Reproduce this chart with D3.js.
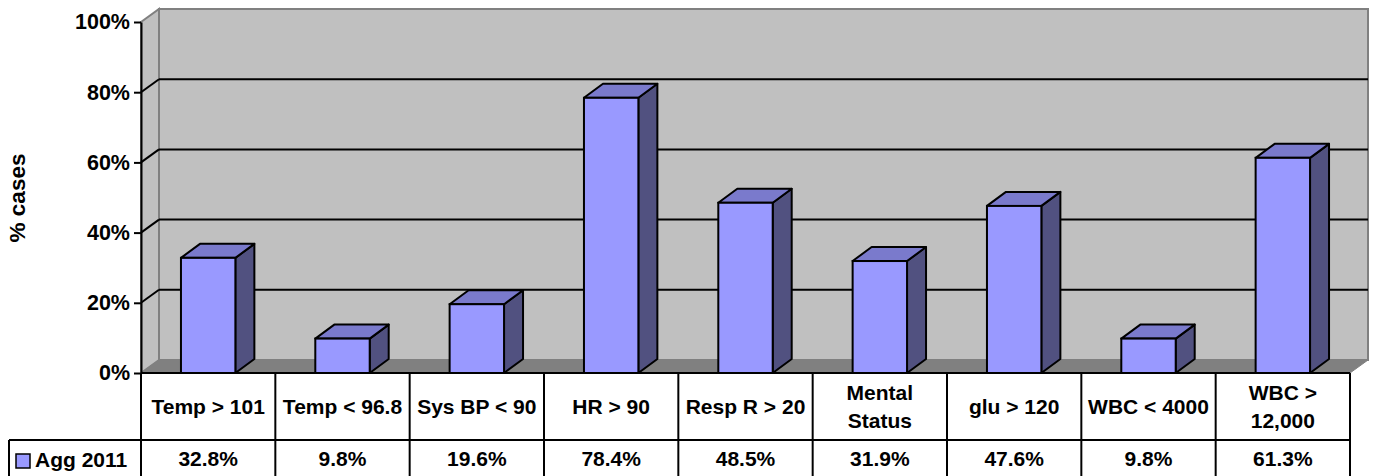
<!DOCTYPE html>
<html>
<head>
<meta charset="utf-8">
<script src="https://cdn.jsdelivr.net/npm/d3@7"></script>
<style>
  html, body { margin: 0; padding: 0; background: #ffffff; }
  svg { display: block; }
  text { font-family: "Liberation Sans", Arial, sans-serif; font-weight: bold; fill: #000; }
</style>
</head>
<body>
<svg id="chart" width="1373" height="476"></svg>
<script>
// Share of cases meeting each criterion, Agg 2011
const categories = ["Temp > 101", "Temp < 96.8", "Sys BP < 90", "HR > 90", "Resp R > 20",
                    "Mental Status", "glu > 120", "WBC < 4000", "WBC > 12,000"];
const categoryLines = [["Temp > 101"], ["Temp < 96.8"], ["Sys BP < 90"], ["HR > 90"], ["Resp R > 20"],
                       ["Mental", "Status"], ["glu > 120"], ["WBC < 4000"], ["WBC >", "12,000"]];
const seriesName = "Agg 2011";
const values = [32.8, 9.8, 19.6, 78.4, 48.5, 31.9, 47.6, 9.8, 61.3];
const yTicks = [0, 20, 40, 60, 80, 100];
const yTitle = "% cases";

const svg = d3.select("#chart");

// Plot frame
const plotLeft = 141, plotRight = 1350, plotTop = 22, plotBase = 373;
const wallDx = 18, wallDy = 13;     // depth of the walls / floor
const barDx = 19, barDy = 14;       // depth of each column
const rowCatBottom = 440, rowValBottom = 476, legendLeft = 9;
const tableFont = 21;

const x = d3.scaleBand().domain(categories).range([plotLeft, plotRight]);
const y = d3.scaleLinear().domain([0, 100]).range([plotBase, plotTop]);

const wallFill = "#c0c0c0", wallEdge = "#808080";

// Back wall
svg.append("rect")
  .attr("x", plotLeft + wallDx).attr("y", plotTop - wallDy)
  .attr("width", plotRight - plotLeft).attr("height", plotBase - plotTop)
  .attr("fill", wallFill).attr("stroke", wallEdge).attr("stroke-width", 2);

// Left side wall
svg.append("polygon")
  .attr("points", [[plotLeft, y(100)], [plotLeft + wallDx, y(100) - wallDy], [plotLeft + wallDx, plotBase - wallDy], [plotLeft, plotBase]].join(" "))
  .attr("fill", wallFill).attr("stroke", wallEdge).attr("stroke-width", 2);

// Gridlines on the back and side walls
const grid = yTicks.filter(d => d > 0 && d < 100);
svg.append("g").selectAll("line").data(grid).join("line")
  .attr("x1", plotLeft + wallDx).attr("x2", plotRight + wallDx)
  .attr("y1", d => y(d) - wallDy).attr("y2", d => y(d) - wallDy)
  .attr("stroke", "#000").attr("stroke-width", 2);
svg.append("g").selectAll("line").data(grid).join("line")
  .attr("x1", plotLeft).attr("x2", plotLeft + wallDx)
  .attr("y1", d => y(d)).attr("y2", d => y(d) - wallDy)
  .attr("stroke", "#000").attr("stroke-width", 2);

// Floor
svg.append("polygon")
  .attr("points", [[plotLeft, plotBase], [plotLeft + wallDx, plotBase - wallDy], [plotRight + wallDx, plotBase - wallDy], [plotRight, plotBase]].join(" "))
  .attr("fill", "#808080").attr("stroke", "#808080").attr("stroke-width", 1);

// 3D columns
const barW = x.bandwidth() * 0.405;
const bars = svg.append("g").selectAll("g").data(values).join("g");
bars.each(function (v, i) {
  const g = d3.select(this);
  const x0 = x(categories[i]) + (x.bandwidth() - barW) / 2;
  const x1 = x0 + barW;
  const yt = y(v);
  // side face
  g.append("polygon")
    .attr("points", [[x1, plotBase], [x1, yt], [x1 + barDx, yt - barDy], [x1 + barDx, plotBase - barDy]].join(" "))
    .attr("fill", "#515180").attr("stroke", "#000").attr("stroke-width", 2).attr("stroke-linejoin", "round");
  // top face
  g.append("polygon")
    .attr("points", [[x0, yt], [x0 + barDx, yt - barDy], [x1 + barDx, yt - barDy], [x1, yt]].join(" "))
    .attr("fill", "#7a7acc").attr("stroke", "#000").attr("stroke-width", 2).attr("stroke-linejoin", "round");
  // front face
  g.append("rect")
    .attr("x", x0).attr("y", yt).attr("width", barW).attr("height", plotBase - yt)
    .attr("fill", "#9999ff").attr("stroke", "#000").attr("stroke-width", 2);
});

// Y axis
const yAxis = svg.append("g")
  .attr("transform", `translate(${plotLeft},0)`)
  .call(d3.axisLeft(y).tickValues(yTicks).tickFormat(d => d + "%").tickSize(7).tickSizeOuter(0).tickPadding(4));
yAxis.select(".domain").attr("stroke", "#000").attr("stroke-width", 2);
yAxis.selectAll(".tick line").attr("stroke", "#000").attr("stroke-width", 2);
yAxis.selectAll(".tick text")
  .attr("font-family", "'Liberation Sans', Arial, sans-serif")
  .attr("font-weight", "bold").attr("font-size", 21.5).attr("fill", "#000");

// Y axis title
svg.append("text")
  .attr("transform", `translate(25,198) rotate(-90)`)
  .attr("text-anchor", "middle")
  .attr("font-size", 22.5)
  .text(yTitle);

// Data table below the plot
const table = svg.append("g");
const lineAttrs = s => s.attr("stroke", "#000").attr("stroke-width", 2);
// horizontal rules
lineAttrs(table.append("line").attr("x1", plotLeft).attr("x2", plotRight).attr("y1", plotBase).attr("y2", plotBase));
lineAttrs(table.append("line").attr("x1", legendLeft).attr("x2", plotRight).attr("y1", rowCatBottom).attr("y2", rowCatBottom));
// vertical rules
const colEdges = categories.map(c => x(c)).concat([plotRight]);
table.append("g").selectAll("line").data(colEdges).join("line")
  .attr("x1", d => d).attr("x2", d => d).attr("y1", plotBase).attr("y2", rowValBottom)
  .attr("stroke", "#000").attr("stroke-width", 2);
lineAttrs(table.append("line").attr("x1", legendLeft).attr("x2", legendLeft).attr("y1", rowCatBottom).attr("y2", rowValBottom));

// category labels
table.append("g").selectAll("text").data(categoryLines).join("text")
  .attr("text-anchor", "middle")
  .attr("font-size", tableFont)
  .each(function (lines, i) {
    const t = d3.select(this);
    const cx = x(categories[i]) + x.bandwidth() / 2;
    const lh = 28;
    const y0 = (plotBase + rowCatBottom) / 2 + 7 - (lines.length - 1) * lh / 2;
    lines.forEach((ln, k) => t.append("tspan").attr("x", cx).attr("y", y0 + k * lh).text(ln));
  });

// value labels
table.append("g").selectAll("text").data(values).join("text")
  .attr("text-anchor", "middle")
  .attr("font-size", tableFont)
  .attr("x", (d, i) => x(categories[i]) + x.bandwidth() / 2)
  .attr("y", 466)
  .text(d => d.toFixed(1) + "%");

// legend key in the table
table.append("rect")
  .attr("x", 16).attr("y", 454).attr("width", 14).attr("height", 14)
  .attr("fill", "#9999ff").attr("stroke", "#000").attr("stroke-width", 1.5);
table.append("text")
  .attr("x", 35).attr("y", 467)
  .attr("font-size", tableFont)
  .text(seriesName);
</script>
</body>
</html>
